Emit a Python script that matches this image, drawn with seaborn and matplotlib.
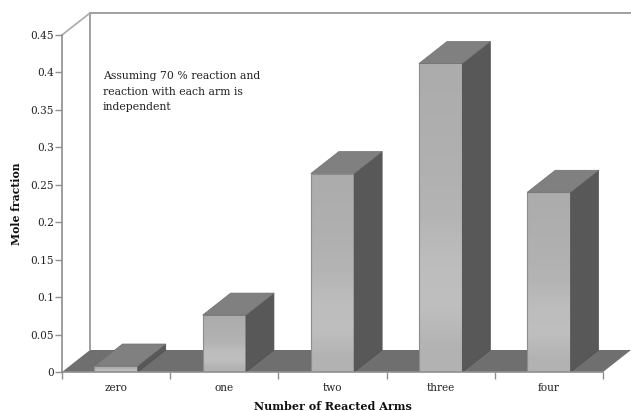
import numpy as np
import pandas as pd
import seaborn as sns
import matplotlib.pyplot as plt
from matplotlib.patches import Polygon

# values
arms = ["zero", "one", "two", "three", "four"]
mole_fraction = [0.008, 0.076, 0.265, 0.412, 0.240]
y_ticks = [0, 0.05, 0.1, 0.15, 0.2, 0.25, 0.3, 0.35, 0.4, 0.45]
y_labels = ["0", "0.05", "0.1", "0.15", "0.2", "0.25", "0.3", "0.35", "0.4", "0.45"]
note = "Assuming 70 % reaction and\nreaction with each arm is\nindependent"

W, H = 631, 411
sns.set_style("white")
plt.rcParams["font.family"] = ["DejaVu Serif"]

df = pd.DataFrame({"arms": arms, "mole_fraction": mole_fraction})

fig = plt.figure(figsize=(W / 100, H / 100), dpi=100)
# axes box = front plane of the 3d chart
ax = fig.add_axes([62 / W, 1 - 372 / H, 541 / W, 337 / H])
sns.barplot(data=df, x="arms", y="mole_fraction", color="#b4b4b4", width=0.4,
            saturation=1, ax=ax, zorder=5)
ax.set_xlim(-0.5, 4.5)
ax.set_ylim(0, 0.45)

# depth of the fake 3d, in data units
dx = 28 / (541 / 5)
dy = 22 / (337 / 0.45)


def shaded(poly, values, zorder):
    # vertical gray gradient clipped to a polygon
    xs, ys = zip(*poly)
    patch = Polygon(poly, closed=True, fc="none", ec="none", transform=ax.transData)
    ax.add_patch(patch)
    im = ax.imshow(np.array(values)[:, None], cmap="gray", vmin=0, vmax=255, aspect="auto",
                   extent=(min(xs), max(xs), min(ys), max(ys)), origin="upper",
                   interpolation="bilinear", zorder=zorder)
    im.set_clip_path(patch)
    ax.set_xlim(-0.5, 4.5)
    ax.set_ylim(0, 0.45)
    return im


# back wall and floor
ax.add_patch(Polygon([(-0.5 + dx, dy), (-0.5 + dx, 0.45 + dy), (4.5 + dx, 0.45 + dy)],
                     closed=False, fill=False, ec="#a0a0a0", lw=1.4, clip_on=False, zorder=1))
ax.add_patch(Polygon([(-0.5, 0.45), (-0.5 + dx, 0.45 + dy)], closed=False, fill=False,
                     ec="#aaaaaa", lw=1.2, clip_on=False, zorder=1))
floor = Polygon([(-0.5, 0), (-0.5 + dx, dy), (4.5 + dx, dy), (4.5, 0)], closed=True,
                fc="#6f6f6f", ec="none", clip_on=False, zorder=2)
ax.add_patch(floor)

# side and top faces taken from the bars seaborn drew
for bar in list(ax.containers[0]):
    x0 = bar.get_x()
    x1 = x0 + bar.get_width()
    h = bar.get_height()
    bar.set_edgecolor("#8c8c8c")
    bar.set_linewidth(0.8)
    bar.set_facecolor("none")
    shaded([(x0, 0), (x1, 0), (x1, h), (x0, h)], [172, 174, 176, 180, 188, 190, 178], 4)
    side = Polygon([(x1, 0), (x1 + dx, dy), (x1 + dx, h + dy), (x1, h)], closed=True,
                   fc="#585858", ec="#505050", lw=0.5, clip_on=False, zorder=6)
    top = Polygon([(x0, h), (x1, h), (x1 + dx, h + dy), (x0 + dx, h + dy)], closed=True,
                  fc="#808080", ec="#707070", lw=0.5, clip_on=False, zorder=6)
    ax.add_patch(side)
    ax.add_patch(top)

ax.text(-0.5 + 41 / (541 / 5), 0.402, note, fontsize=7.8, color="#222222", va="top",
        ha="left", linespacing=1.7)

# axes
sns.despine(ax=ax, top=True, right=True)
for s in ["left", "bottom"]:
    ax.spines[s].set_color("#8f8f8f")
    ax.spines[s].set_linewidth(1.2)
    ax.spines[s].set_zorder(7)
ax.set_yticks(y_ticks)
ax.set_yticklabels(y_labels, fontsize=7.6, color="#222222")
ax.set_xticks(range(len(arms)))
ax.set_xticklabels(arms, fontsize=7.6, color="#222222")
ax.set_xticks(np.arange(-0.5, 5), minor=True)
ax.tick_params(axis="x", which="major", length=0, pad=8)
ax.tick_params(axis="x", which="minor", length=5, width=1, color="#8f8f8f", bottom=True)
ax.tick_params(axis="y", length=5, width=1, color="#8f8f8f", left=True, pad=1)
ax.set_xlabel("Number of Reacted Arms", fontsize=8, fontweight="bold", color="#111111", labelpad=6)
ax.set_ylabel("Mole fraction", fontsize=7.8, fontweight="bold", color="#111111", labelpad=6)

fig.savefig("out.png", dpi=100)
